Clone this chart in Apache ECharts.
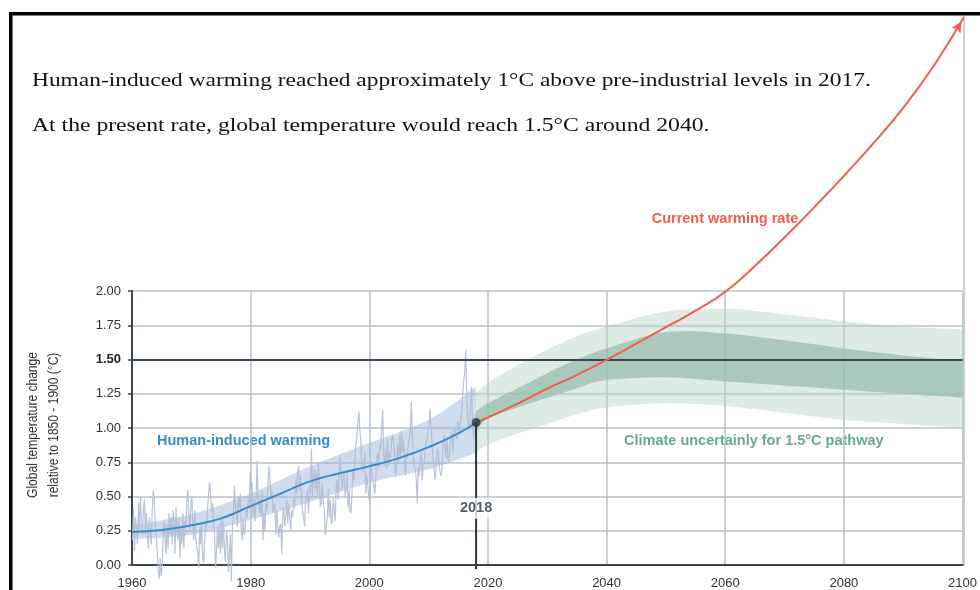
<!DOCTYPE html>
<html>
<head>
<meta charset="utf-8">
<script src="https://cdn.jsdelivr.net/npm/echarts@6/dist/echarts.min.js"></script>
<style>
  html, body { margin: 0; padding: 0; background: #fff; }
  #chart { width: 980px; height: 590px; }
</style>
</head>
<body>
<div id="chart"></div>
<script>
// Observed global temperature anomalies, six samples per year from 1960 to 2017
const obsStart = 1960;
const obsPerYear = 6;
const observed = [
  0.18, 0.42, 0.10, 0.35, 0.28, 0.15,   // 1960
  0.45, 0.25, 0.50, 0.32, 0.22, 0.40,
  0.48, 0.22, 0.38, 0.28, 0.12, 0.35,
  0.25, 0.15, 0.40, 0.54, 0.48, 0.30,
  0.22, 0.10, -0.05, -0.10, 0.05, -0.08,
  -0.02, 0.20, 0.32, 0.18, 0.08, 0.30,  // 1965
  0.12, 0.38, 0.22, 0.35, 0.15, 0.40,
  0.32, 0.08, 0.42, 0.25, 0.18, 0.35,
  0.05, 0.28, 0.15, 0.38, 0.12, 0.32,
  0.28, 0.48, 0.55, 0.35, 0.25, 0.45,
  0.50, 0.28, 0.18, 0.40, 0.22, 0.12,   // 1970
  0.10, -0.02, 0.28, 0.15, 0.32, 0.05,
  0.02, 0.18, 0.32, 0.28, 0.42, 0.52,
  0.60, 0.50, 0.38, 0.45, 0.30, 0.22,
  -0.02, 0.10, 0.28, 0.12, 0.30, 0.08,
  0.35, 0.12, 0.32, 0.10, 0.02, 0.25,   // 1975
  0.18, -0.05, 0.08, 0.22, -0.12, 0.28,
  0.35, 0.58, 0.45, 0.38, 0.28, 0.50,
  0.42, 0.52, 0.25, 0.18, 0.35, 0.22,
  0.25, 0.40, 0.35, 0.48, 0.42, 0.68,
  0.55, 0.60, 0.35, 0.48, 0.32, 0.50,   // 1980
  0.76, 0.52, 0.38, 0.48, 0.35, 0.55,
  0.18, 0.38, 0.25, 0.45, 0.40, 0.58,
  0.72, 0.65, 0.48, 0.55, 0.38, 0.42,
  0.45, 0.22, 0.40, 0.30, 0.20, 0.28,
  0.30, 0.08, 0.38, 0.42, 0.28, 0.35,   // 1985
  0.48, 0.30, 0.45, 0.35, 0.25, 0.40,
  0.35, 0.48, 0.42, 0.62, 0.52, 0.68,
  0.72, 0.55, 0.65, 0.48, 0.40, 0.35,
  0.28, 0.45, 0.50, 0.55, 0.38, 0.58,
  0.52, 0.85, 0.50, 0.65, 0.70, 0.55,   // 1990
  0.68, 0.50, 0.75, 0.60, 0.42, 0.45,
  0.60, 0.45, 0.40, 0.22, 0.28, 0.35,
  0.55, 0.35, 0.48, 0.30, 0.32, 0.50,
  0.40, 0.32, 0.58, 0.62, 0.48, 0.65,
  0.80, 0.70, 0.55, 0.62, 0.68, 0.50,   // 1995
  0.55, 0.68, 0.42, 0.55, 0.40, 0.38,
  0.52, 0.70, 0.62, 0.80, 0.88, 0.95,
  1.05, 1.12, 0.98, 0.90, 0.70, 0.68,
  0.70, 0.82, 0.52, 0.65, 0.58, 0.50,
  0.45, 0.75, 0.68, 0.62, 0.58, 0.52,   // 2000
  0.62, 0.78, 0.82, 0.70, 0.88, 0.85,
  1.00, 1.13, 0.80, 0.72, 0.85, 0.70,
  0.92, 0.72, 0.82, 0.78, 0.90, 0.95,
  0.90, 0.82, 0.65, 0.72, 0.88, 0.75,
  0.95, 0.78, 0.98, 0.82, 0.92, 0.80,   // 2005
  0.65, 0.82, 0.78, 0.88, 0.92, 0.98,
  1.19, 0.95, 0.80, 0.72, 0.70, 0.62,
  0.45, 0.72, 0.65, 0.78, 0.82, 0.62,
  0.72, 0.75, 0.85, 0.90, 0.92, 0.98,
  1.02, 1.14, 1.00, 0.88, 0.78, 0.70,   // 2010
  0.62, 0.70, 0.82, 0.85, 0.75, 0.68,
  0.65, 0.70, 0.88, 0.95, 0.90, 0.78,
  0.92, 0.78, 0.75, 0.88, 0.90, 0.98,
  0.82, 0.90, 1.00, 0.95, 0.92, 1.05,
  1.02, 0.95, 1.08, 1.12, 1.25, 1.35,   // 2015
  1.40, 1.57, 1.25, 1.08, 0.98, 1.05,
  1.18, 1.30, 1.02, 0.95, 0.92, 1.10
];

// Human-induced warming (central estimate) and its likely range
const humanYears = [1960, 1965, 1970, 1975, 1980, 1985, 1990, 1995, 2000, 2005, 2010, 2015, 2018];
const humanWarming = [0.24, 0.255, 0.29, 0.34, 0.43, 0.52, 0.61, 0.67, 0.72, 0.78, 0.86, 0.96, 1.04];
const humanBandYears = [1960, 1970, 1980, 1990, 2000, 2010, 2018];
const humanBandLow = [0.19, 0.22, 0.33, 0.46, 0.60, 0.70, 0.82];
const humanBandHigh = [0.29, 0.37, 0.52, 0.72, 0.89, 1.06, 1.30];

// Climate uncertainty for a 1.5°C pathway
const pathwayYears = [2018, 2020, 2025, 2030, 2035, 2040, 2050, 2060, 2070, 2080, 2090, 2100];
const pathwayOuterLow = [0.82, 0.88, 0.96, 1.03, 1.10, 1.15, 1.18, 1.16, 1.11, 1.06, 1.03, 1.00];
const pathwayOuterHigh = [1.25, 1.33, 1.46, 1.57, 1.67, 1.74, 1.85, 1.87, 1.83, 1.78, 1.74, 1.72];
const pathwayInnerLow = [0.98, 1.07, 1.15, 1.22, 1.29, 1.35, 1.37, 1.34, 1.31, 1.28, 1.25, 1.22];
const pathwayInnerHigh = [1.12, 1.18, 1.29, 1.40, 1.50, 1.58, 1.70, 1.69, 1.64, 1.58, 1.53, 1.49];

// Warming continued at the current rate
const rateYears = [2018, 2025, 2030, 2035, 2040, 2045, 2050, 2055, 2060, 2065, 2070, 2075, 2080, 2085, 2090, 2095, 2100];
const rateValues = [1.04, 1.18, 1.29, 1.39, 1.50, 1.62, 1.74, 1.86, 2.00, 2.19, 2.40, 2.62, 2.85, 3.09, 3.35, 3.65, 4.00];

// Reference markers
const markYear = 2018;
const markValue = 1.04;
const markLabelLevel = 0.415;
const markLineBottom = -0.03;
const targetLevel = 1.5;

const yTickLabels = ['0.00', '0.25', '0.50', '0.75', '1.00', '1.25', '1.50', '1.75', '2.00'];

const DARK = '#3b4552';
const GRIDC = '#b9c0ca';
const SANS = '"Liberation Sans", Arial, Helvetica, sans-serif';
const SERIF = '19px "Liberation Serif", "Times New Roman", serif';

function pairs(xs, ys) { return xs.map((x, i) => [x, ys[i]]); }

// Catmull-Rom style cubic segments through pixel points
function spline(p) {
  let s = '';
  for (let i = 0; i < p.length - 1; i++) {
    const p0 = p[Math.max(i - 1, 0)], p1 = p[i], p2 = p[i + 1], p3 = p[Math.min(i + 2, p.length - 1)];
    const c1x = p1[0] + (p2[0] - p0[0]) / 6, c1y = p1[1] + (p2[1] - p0[1]) / 6;
    const c2x = p2[0] - (p3[0] - p1[0]) / 6, c2y = p2[1] - (p3[1] - p1[1]) / 6;
    s += ' C' + c1x + ' ' + c1y + ' ' + c2x + ' ' + c2y + ' ' + p2[0] + ' ' + p2[1];
  }
  return s;
}

function bandSeries(name, years, low, high, color, z) {
  return {
    type: 'custom', name: name, xAxisIndex: 1, yAxisIndex: 1, z: z, silent: true,
    data: [[years[0], low[0]]],
    renderItem: function (params, api) {
      const up = years.map((y, i) => api.coord([y, high[i]]));
      const dn = years.map((y, i) => api.coord([y, low[i]])).reverse();
      const d = 'M' + up[0][0] + ' ' + up[0][1] + spline(up) +
        ' L' + dn[0][0] + ' ' + dn[0][1] + spline(dn) + ' Z';
      return { type: 'path', shape: { pathData: d }, style: { fill: color } };
    }
  };
}

const observedPoints = observed.map((v, i) => [obsStart + (i + 0.5) / obsPerYear, v]);

const ratePoints = rateYears.map((y, i) => {
  if (i === rateYears.length - 1) {
    return {
      value: [y, rateValues[i]], symbol: 'arrow', symbolSize: [8, 11],
      symbolRotate: -31, symbolOffset: [-2.5, 4.5],
      itemStyle: { color: '#ef5f4c' }
    };
  }
  return [y, rateValues[i]];
});

const chart = echarts.init(document.getElementById('chart'));

chart.setOption({
  animation: false,
  backgroundColor: '#ffffff',
  grid: [
    { left: 132, right: 16, top: 17, bottom: 25 },
    { left: 132, right: 16, top: 291, bottom: 25 }
  ],
  xAxis: [
    { gridIndex: 0, type: 'value', min: 1960, max: 2100, show: false },
    {
      gridIndex: 1, type: 'value', min: 1960, max: 2100, interval: 20,
      axisLine: { lineStyle: { color: DARK, width: 2 } },
      axisTick: { show: false },
      axisLabel: {
        color: '#333', fontSize: 13, fontFamily: SANS, margin: 12,
        formatter: function (v) { return String(v); }
      },
      splitLine: { lineStyle: { color: GRIDC, width: 1.5 } }
    }
  ],
  yAxis: [
    {
      gridIndex: 0, type: 'value', min: 0, max: 4, position: 'right',
      axisLine: { show: true, lineStyle: { color: GRIDC, width: 1.5 } },
      axisTick: { show: false }, axisLabel: { show: false }, splitLine: { show: false }
    },
    {
      gridIndex: 1, type: 'value', min: 0, max: 2, interval: 0.25,
      axisLine: { show: true, lineStyle: { color: DARK, width: 2 } },
      axisTick: { show: true, length: 4, lineStyle: { color: DARK, width: 1.5 } },
      axisLabel: {
        color: '#333', fontSize: 13, fontFamily: SANS, margin: 11,
        formatter: function (v) {
          const t = yTickLabels[Math.round(v / 0.25)];
          return v === targetLevel ? '{b|' + t + '}' : t;
        },
        rich: { b: { fontWeight: 'bold', color: '#222', fontSize: 13, fontFamily: SANS } }
      },
      splitLine: { lineStyle: { color: GRIDC, width: 1.5 } }
    }
  ],
  series: [
    bandSeries('Likely range', humanBandYears, humanBandLow, humanBandHigh, 'rgba(160,185,220,0.5)', 1),
    {
      type: 'line', name: 'Observed', xAxisIndex: 1, yAxisIndex: 1, z: 2,
      data: observedPoints, showSymbol: false, clip: false, silent: true,
      lineStyle: { color: '#b3bdd0', width: 1.2, opacity: 0.9 }
    },
    bandSeries('Pathway range', pathwayYears, pathwayOuterLow, pathwayOuterHigh, 'rgba(180,210,196,0.45)', 1),
    bandSeries('Pathway likely', pathwayYears, pathwayInnerLow, pathwayInnerHigh, 'rgba(152,188,175,0.75)', 1),
    {
      type: 'line', name: 'Human-induced warming', xAxisIndex: 1, yAxisIndex: 1, z: 3,
      data: pairs(humanYears, humanWarming), smooth: true,
      showSymbol: false, silent: true,
      lineStyle: { color: '#3a8cc6', width: 2 },
      markLine: {
        silent: true, symbol: 'none', label: { show: false },
        lineStyle: { color: DARK, width: 2, type: 'solid' },
        data: [{ yAxis: targetLevel }]
      }
    },
    {
      type: 'line', name: 'Current warming rate', xAxisIndex: 0, yAxisIndex: 0, z: 5,
      data: ratePoints, smooth: true, symbol: 'none', clip: false, silent: true,
      lineStyle: { color: '#ef5f4c', width: 2 }
    },
    {
      type: 'line', name: 'Marker', xAxisIndex: 1, yAxisIndex: 1, z: 6,
      data: [[markYear, markValue], [markYear, markLineBottom]],
      showSymbol: false, clip: false, silent: true,
      lineStyle: { color: '#2b3441', width: 2 }
    },
    {
      type: 'scatter', name: 'Marker label', xAxisIndex: 1, yAxisIndex: 1, z: 7, silent: true,
      data: [[markYear, markLabelLevel]], symbolSize: 1,
      itemStyle: { color: 'transparent' },
      label: {
        show: true, position: 'inside', formatter: String(markYear),
        fontFamily: SANS, fontSize: 14.5, fontWeight: 'bold', color: '#2b3441',
        backgroundColor: '#ffffff', padding: [3, 1]
      }
    },
    {
      type: 'scatter', name: 'Marker point', xAxisIndex: 1, yAxisIndex: 1, z: 8, silent: true,
      data: [[markYear, markValue]], symbolSize: 9,
      itemStyle: { color: '#2b3441' }
    }
  ],
  graphic: [
    { type: 'rect', left: 9, top: 12, shape: { width: 971, height: 3.5 }, style: { fill: '#000' } },
    { type: 'rect', left: 9, top: 12, shape: { width: 3.5, height: 578 }, style: { fill: '#000' } },
    {
      type: 'text', x: 32, y: 81, scaleX: 1.232,
      style: {
        text: 'Human-induced warming reached approximately 1°C above pre-industrial levels in 2017.',
        font: SERIF, fill: '#111', align: 'left', verticalAlign: 'middle'
      }
    },
    {
      type: 'text', x: 32, y: 126, scaleX: 1.245,
      style: {
        text: 'At the present rate, global temperature would reach 1.5°C around 2040.',
        font: SERIF, fill: '#111', align: 'left', verticalAlign: 'middle'
      }
    },
    {
      type: 'text', x: 725, y: 219,
      style: {
        text: 'Current warming rate', align: 'center', verticalAlign: 'middle',
        font: 'bold 14.5px ' + SANS, fill: '#ef5f4c'
      }
    },
    {
      type: 'text', x: 157, y: 441,
      style: {
        text: 'Human-induced warming', align: 'left', verticalAlign: 'middle',
        font: 'bold 14.5px ' + SANS, fill: '#3a8cc6'
      }
    },
    {
      type: 'text', x: 624, y: 441,
      style: {
        text: 'Climate uncertainly for 1.5°C pathway', align: 'left', verticalAlign: 'middle',
        font: 'bold 14.5px ' + SANS, fill: '#6aa891'
      }
    },
    {
      type: 'text', x: 33, y: 425, rotation: Math.PI / 2, scaleX: 0.86,
      style: {
        text: 'Global temperature change', align: 'center', verticalAlign: 'middle',
        font: '14px ' + SANS, fill: '#333'
      }
    },
    {
      type: 'text', x: 54, y: 425, rotation: Math.PI / 2, scaleX: 0.86,
      style: {
        text: 'relative to 1850 - 1900 (°C)', align: 'center', verticalAlign: 'middle',
        font: '14px ' + SANS, fill: '#333'
      }
    }
  ]
});
</script>
</body>
</html>
